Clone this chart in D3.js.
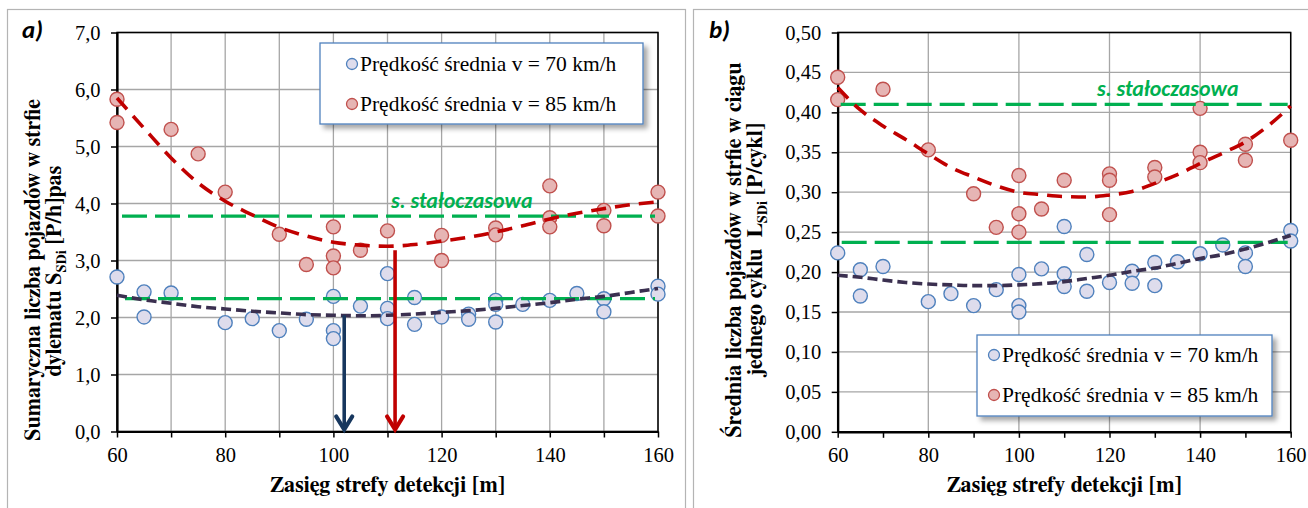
<!DOCTYPE html>
<html>
<head>
<meta charset="utf-8">
<script src="https://cdn.jsdelivr.net/npm/d3@7"></script>
<style>
  body { margin: 0; background: #fff; }
  svg { display: block; }
</style>
</head>
<body>
<svg id="chart" width="1308" height="508"></svg>
<script>
// ---- shared axis values ----
const xTickValues = [60, 70, 80, 90, 100, 110, 120, 130, 140, 150, 160];
const xLabelValues = [60, 80, 100, 120, 140, 160];
const trendX = [60, 65, 70, 75, 80, 85, 90, 95, 100, 105, 110, 115, 120, 125, 130, 135, 140, 145, 150, 155, 160];
const seriesNames = ["Prędkość średnia v = 70 km/h", "Prędkość średnia v = 85 km/h"];
const xTitle = "Zasięg strefy detekcji [m]";
const thresholdLabel = "s. stałoczasowa";

// ---- panel a) : S_SDi [P/h]pas ----
const aYTicks = [0, 1, 2, 3, 4, 5, 6, 7];
const aV70 = [[60,2.71],[65,2.45],[65,2.01],[70,2.43],[80,1.91],[85,1.98],[90,1.77],[95,1.97],
  [100,2.37],[100,1.77],[100,1.63],[105,2.20],[110,2.77],[110,2.16],[110,1.98],[115,2.35],[115,1.88],
  [120,2.01],[125,2.06],[125,1.97],[130,2.30],[130,2.23],[130,1.92],[135,2.23],[140,2.30],[145,2.42],
  [150,2.33],[150,2.10],[160,2.55],[160,2.41]];
const aV85 = [[60,5.83],[60,5.42],[70,5.30],[75,4.87],[80,4.20],[90,3.46],[95,2.93],
  [100,3.59],[100,3.08],[100,2.87],[105,3.18],[110,3.52],[120,3.44],[120,3.00],[130,3.57],[130,3.45],
  [140,4.31],[140,3.75],[140,3.59],[150,3.88],[150,3.61],[160,4.20],[160,3.78]];
const aTrend70 = [2.39,2.31,2.25,2.19,2.15,2.11,2.08,2.05,2.04,2.03,2.04,2.06,2.09,2.12,2.16,2.21,2.26,2.32,2.37,2.44,2.51];
const aTrend85 = [5.85,5.32,4.80,4.36,4.04,3.80,3.58,3.43,3.32,3.27,3.25,3.28,3.34,3.41,3.50,3.61,3.73,3.83,3.91,3.98,4.03];
const aThresholds = [2.33, 3.78];          // 70 km/h, 85 km/h
const aArrowX = [102, 111.4];              // optimum range: 70 km/h, 85 km/h
const aArrowTop = [2.04, 3.18];

// ---- panel b) : L_SDi [P/cykl] ----
const bYTicks = [0, 0.05, 0.10, 0.15, 0.20, 0.25, 0.30, 0.35, 0.40, 0.45, 0.50];
const bV70 = [[60,0.224],[65,0.203],[65,0.170],[70,0.207],[80,0.163],[85,0.173],[90,0.158],[95,0.178],
  [100,0.197],[100,0.158],[100,0.150],[105,0.204],[110,0.257],[110,0.198],[110,0.182],[115,0.222],[115,0.176],
  [120,0.187],[125,0.201],[125,0.186],[130,0.212],[130,0.183],[135,0.213],[140,0.223],[145,0.234],
  [150,0.224],[150,0.207],[160,0.252],[160,0.239]];
const bV85 = [[60,0.444],[60,0.416],[70,0.429],[80,0.353],[90,0.298],[95,0.256],
  [100,0.321],[100,0.273],[100,0.250],[105,0.279],[110,0.315],[120,0.323],[120,0.315],[120,0.272],
  [130,0.331],[130,0.319],[140,0.405],[140,0.350],[140,0.337],[150,0.360],[150,0.340],[160,0.365]];
const bTrend70 = [0.196,0.1935,0.190,0.187,0.185,0.184,0.183,0.183,0.184,0.1855,0.188,0.192,0.196,0.201,0.205,0.211,0.217,0.222,0.229,0.237,0.246];
const bTrend85 = [0.431,0.403,0.383,0.366,0.348,0.331,0.319,0.308,0.300,0.297,0.2945,0.294,0.2965,0.301,0.311,0.322,0.336,0.349,0.363,0.383,0.408];
const bThresholds = [0.2373, 0.410];

// ---- colours & fonts ----
const C = {
  fill70: "#dedcec", stroke70: "#4f81bd",
  fill85: "#e6b5b4", stroke85: "#c0504d",
  trend70: "#3b3050", trend85: "#c00000",
  green: "#00b050", grid: "#a6a6a6", frame: "#b4b4b4",
  arrow70: "#17375e", arrow85: "#c00000"
};
const SERIF = "Liberation Serif";
const SERIF_BOLD = "FreeSerif";
const SANS = "Carlito";

const svg = d3.select("#chart");
const defs = svg.append("defs");
defs.append("filter").attr("id", "shadow").attr("x", "-10%").attr("y", "-10%").attr("width", "130%").attr("height", "140%")
  .append("feDropShadow").attr("dx", 4).attr("dy", 4).attr("stdDeviation", 2.5)
  .attr("flood-color", "#000").attr("flood-opacity", 0.35);

// outer frames of the two figure panels
svg.append("rect").attr("x", 7.5).attr("y", 9.5).attr("width", 678).attr("height", 520)
  .attr("fill", "none").attr("stroke", C.frame).attr("stroke-width", 1.2);
svg.append("rect").attr("x", 693.5).attr("y", 9.5).attr("width", 640).attr("height", 520)
  .attr("fill", "none").attr("stroke", C.frame).attr("stroke-width", 1.2);

function drawPanel(cfg) {
  const g = svg.append("g");
  const x = d3.scaleLinear().domain([60, 160]).range([cfg.left, cfg.right]);
  const y = d3.scaleLinear().domain([0, cfg.yMax]).range([cfg.bottom, cfg.top]);

  // grid
  g.append("g").selectAll("line").data(cfg.xGrid).join("line")
    .attr("x1", d => x(d)).attr("x2", d => x(d)).attr("y1", cfg.top).attr("y2", cfg.bottom)
    .attr("stroke", C.grid).attr("stroke-width", 1.3);
  g.append("g").selectAll("line").data(cfg.yTicks).join("line")
    .attr("x1", cfg.left).attr("x2", cfg.right).attr("y1", d => y(d)).attr("y2", d => y(d))
    .attr("stroke", C.grid).attr("stroke-width", 1.3);

  // plot frame
  g.append("rect").attr("x", cfg.left).attr("y", cfg.top)
    .attr("width", cfg.right - cfg.left).attr("height", cfg.bottom - cfg.top)
    .attr("fill", "none").attr("stroke", "#000").attr("stroke-width", 1.5);

  // axes
  const xAxis = d3.axisBottom(x).tickValues(xTickValues).tickSizeInner(6).tickSizeOuter(0)
    .tickPadding(10).tickFormat(d => xLabelValues.includes(d) ? d : "");
  const gx = g.append("g").attr("transform", `translate(0,${cfg.bottom})`).call(xAxis);
  const yAxis = d3.axisLeft(y).tickValues(cfg.yTicks).tickSizeInner(6).tickSizeOuter(0)
    .tickPadding(10.5).tickFormat(d => d.toFixed(cfg.decimals).replace(".", ","));
  const gy = g.append("g").attr("transform", `translate(${cfg.left},0)`).call(yAxis);
  [gx, gy].forEach(a => {
    a.attr("font-family", null).attr("font-size", null);
    a.select(".domain").attr("stroke", "#000").attr("stroke-width", 2.2);
    a.selectAll(".tick line").attr("stroke", "#000").attr("stroke-width", 1.5);
    a.selectAll(".tick text").attr("fill", "#000")
      .style("font-family", SERIF).style("font-size", "20.5px");
  });
  gx.selectAll(".tick text").attr("dy", "0.71em");

  // points: 70 km/h, then 85 km/h
  g.append("g").selectAll("circle").data(cfg.v70).join("circle")
    .attr("cx", d => x(d[0])).attr("cy", d => y(d[1])).attr("r", 7)
    .attr("fill", C.fill70).attr("stroke", C.stroke70).attr("stroke-width", 1.4);
  g.append("g").selectAll("circle").data(cfg.v85).join("circle")
    .attr("cx", d => x(d[0])).attr("cy", d => y(d[1])).attr("r", 7)
    .attr("fill", C.fill85).attr("stroke", C.stroke85).attr("stroke-width", 1.4);

  // fixed-time control thresholds
  g.append("g").selectAll("line").data(cfg.thresholds).join("line")
    .attr("x1", (d, i) => cfg.left + cfg.thrStart[i]).attr("x2", cfg.right - 3)
    .attr("y1", d => y(d)).attr("y2", d => y(d))
    .attr("stroke", C.green).attr("stroke-width", 3.2).attr("stroke-dasharray", "25,8");
  g.append("text").attr("x", cfg.labelX).attr("y", cfg.labelY)
    .style("font-family", SANS).style("font-weight", 700).style("font-style", "italic")
    .style("font-size", "22px").attr("fill", C.green).text(thresholdLabel);

  // polynomial trend curves
  const line = d3.line().x((d, i) => x(trendX[i])).y(d => y(d)).curve(d3.curveMonotoneX);
  g.append("path").datum(cfg.trend70).attr("d", line).attr("fill", "none")
    .attr("stroke", C.trend70).attr("stroke-width", 3.6).attr("stroke-dasharray", "10,5");
  g.append("path").datum(cfg.trend85).attr("d", line).attr("fill", "none")
    .attr("stroke", C.trend85).attr("stroke-width", 3.6).attr("stroke-dasharray", "15,9");

  // arrows marking the optimum detection range
  if (cfg.arrowX) {
    cfg.arrowX.forEach((ax, i) => {
      const col = i === 0 ? C.arrow70 : C.arrow85;
      const px = x(ax), tip = cfg.bottom;
      g.append("line").attr("x1", px).attr("x2", px).attr("y1", y(cfg.arrowTop[i])).attr("y2", tip - 2)
        .attr("stroke", col).attr("stroke-width", 3.6);
      g.append("path").attr("d", `M${px - 8},${tip - 15} L${px},${tip - 2} L${px + 8},${tip - 15}`)
        .attr("fill", "none").attr("stroke", col).attr("stroke-width", 4.2)
        .attr("stroke-linecap", "round").attr("stroke-linejoin", "miter");
    });
  }

  // legend
  const L = cfg.legend;
  const lg = g.append("g");
  lg.append("rect").attr("x", L.x).attr("y", L.y).attr("width", L.w).attr("height", L.h)
    .attr("fill", "#fff").attr("stroke", "#4f81bd").attr("stroke-width", 1.3).attr("filter", "url(#shadow)");
  seriesNames.forEach((name, i) => {
    const cy = L.y + L.rowY[i];
    lg.append("circle").attr("cx", L.x + L.markX).attr("cy", cy).attr("r", 5.5)
      .attr("fill", i === 0 ? C.fill70 : C.fill85).attr("stroke", i === 0 ? C.stroke70 : C.stroke85)
      .attr("stroke-width", 1.3);
    lg.append("text").attr("x", L.x + L.markX + 8).attr("y", cy + 7)
      .style("font-family", SERIF).style("font-size", "21.5px").attr("fill", "#000").text(name);
  });

  // axis titles
  g.append("text").attr("x", (cfg.left + cfg.right) / 2).attr("y", 492).attr("text-anchor", "middle")
    .style("font-family", SERIF_BOLD).style("font-size", "22px").style("font-weight", 700).text(xTitle);
  cfg.yTitle.forEach(t => {
    const tx = g.append("text").attr("transform", `translate(${t.x},${t.cy}) rotate(-90)`)
      .attr("text-anchor", "middle")
      .style("font-family", SERIF_BOLD).style("font-size", "22px").style("font-weight", 700)
      .style("white-space", "pre");
    t.parts.forEach(p => {
      if (p.sub) tx.append("tspan").style("font-size", "14px").attr("dy", 5).text(p.sub);
      else tx.append("tspan").attr("dy", p.after ? -5 : 0).text(p.text);
    });
  });

  // panel letter
  g.append("text").attr("x", cfg.letterX).attr("y", 38)
    .style("font-family", SANS).style("font-weight", 700).style("font-style", "italic")
    .style("font-size", "25px").text(cfg.letter);
}

drawPanel({
  left: 117, right: 658, top: 32.5, bottom: 431.5, yMax: 7, decimals: 1,
  xGrid: xTickValues, yTicks: aYTicks,
  v70: aV70, v85: aV85, trend70: aTrend70, trend85: aTrend85,
  thresholds: aThresholds, thrStart: [8, 5],
  labelX: 391, labelY: 208,
  arrowX: aArrowX, arrowTop: aArrowTop,
  legend: { x: 320, y: 43, w: 323, h: 81, markX: 32, rowY: [21, 61] },
  yTitle: [
    { x: 40, cy: 270, parts: [{ text: "Sumaryczna liczba pojazdów w strfie" }] },
    { x: 61, cy: 271, parts: [{ text: "dylematu S" }, { sub: "SDi" }, { text: " [P/h]pas", after: true }] }
  ],
  letter: "a)", letterX: 22
});

drawPanel({
  left: 837.7, right: 1290.7, top: 32.5, bottom: 431.8, yMax: 0.5, decimals: 2,
  xGrid: xLabelValues, yTicks: bYTicks,
  v70: bV70, v85: bV85, trend70: bTrend70, trend85: bTrend85,
  thresholds: bThresholds, thrStart: [4, 3],
  labelX: 1097, labelY: 96,
  legend: { x: 977, y: 335, w: 295, h: 81, markX: 17, rowY: [20, 60] },
  yTitle: [
    { x: 741, cy: 250, parts: [{ text: "Średnia liczba pojazdów w strfie w ciągu" }] },
    { x: 762, cy: 250, parts: [{ text: "jednego cyklu  L" }, { sub: "SDi" }, { text: " [P/cykl]", after: true }] }
  ],
  letter: "b)", letterX: 709
});
</script>
</body>
</html>
